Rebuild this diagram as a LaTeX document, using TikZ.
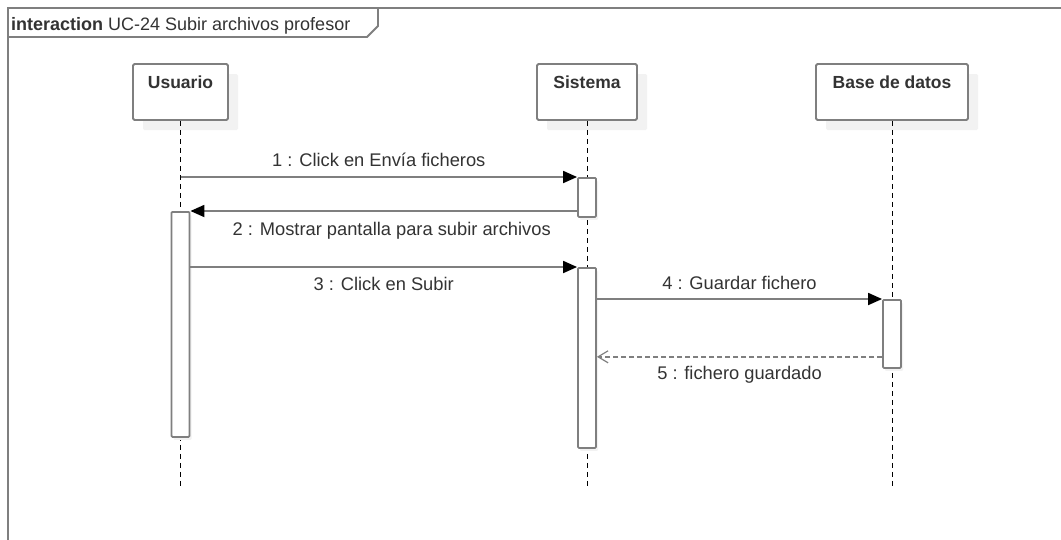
\documentclass[tikz,border=0pt]{standalone}
\usepackage{fontspec}
\setmainfont{Liberation Sans}
\usetikzlibrary{arrows.meta,calc,shadows}
\definecolor{lineg}{HTML}{7F7F7F}
\definecolor{txtg}{HTML}{333333}
\tikzset{
  frameline/.style={draw=lineg,line width=1.8pt},
  actor/.style={draw=lineg,line width=1.8pt,fill=white,rounded corners=1.5pt,
    inner sep=0pt,minimum width=#1,text height=24pt,text depth=32pt,
    font=\fontsize{17.5}{20}\selectfont\bfseries,text=txtg,
    general shadow={fill=black!5,shadow xshift=10pt,shadow yshift=-10pt}},
  lifeline/.style={draw=black,line width=1pt,dash pattern=on 5pt off 4pt},
  actbar/.style={draw=lineg,line width=1.8pt,fill=white,rounded corners=1pt,
    inner sep=0pt,minimum width=18pt,anchor=north,
    general shadow={fill=black!5,shadow xshift=2pt,shadow yshift=-3pt}},
  msg/.style={draw=lineg,line width=1.8pt,-{Triangle[length=14pt,width=12pt,fill=black,color=black]}},
  reply/.style={draw=lineg,line width=1.5pt,dash pattern=on 5pt off 3pt,
    -{Straight Barb[length=10pt,width=12pt,color=lineg,line width=1.2pt]}},
  msglabel/.style={font=\fontsize{18.3}{21}\selectfont,text=txtg,inner sep=0pt},
}
\begin{document}
\begin{tikzpicture}[x=1pt,y=-1pt]
\useasboundingbox (0,0) rectangle (1061,539);
\fill[white] (0,0) rectangle (1061,539);

% interaction frame and its name tab
\draw[frameline] (8,545) -- (8,8) -- (1070,8);
\draw[frameline] (8,37) -- (367,37) -- (378,26) -- (378,8);
\node[anchor=base west,inner sep=0pt,text=txtg,font=\fontsize{18}{21}\selectfont] (title) at (11,30)
  {\textbf{interaction} UC-24 Subir archivos profesor};

% participants
\node[actor=95pt] (u) at (180.5,92) {Usuario};
\node[actor=100pt] (s) at (587,92) {Sistema};
\node[actor=152pt] (b) at (892,92) {Base de datos};

% lifeline ends
\coordinate (uend) at (180.5,488);
\coordinate (send) at (587,488);
\coordinate (bend) at (892,488);
\draw[lifeline] (u.south) -- (uend);
\draw[lifeline] (s.south) -- (send);
\draw[lifeline] (b.south) -- (bend);

% activation bars
\node[actbar,minimum height=39pt] (sa1) at (587,177) {};
\node[actbar,minimum height=225pt] (ua) at (180.5,211) {};
\node[actbar,minimum height=180pt] (sa2) at (587,267) {};
\node[actbar,minimum height=68pt] (ba) at (892,299) {};

% messages
\draw[msg] (u |- sa1.north) -- node[msglabel,above=9pt] {1 : Click en Envía ficheros} (sa1.north west);
\draw[msg] (sa1.west |- ua.north) -- node[msglabel,below=10pt,xshift=8pt] {2 : Mostrar pantalla para subir archivos} (ua.north east);
\draw[msg] (ua.east |- sa2.north) -- node[msglabel,below=9pt] {3 : Click en Subir} (sa2.north west);
\draw[msg] (sa2.east |- ba.north) -- node[msglabel,above=8pt] {4 : Guardar fichero} (ba.north west);
\coordinate (r5) at ($(ba.south west)+(0,-12)$);
\draw[reply] (r5) -- node[msglabel,below=9pt] {5 : fichero guardado} (sa2.east |- r5);
\end{tikzpicture}
\end{document}
